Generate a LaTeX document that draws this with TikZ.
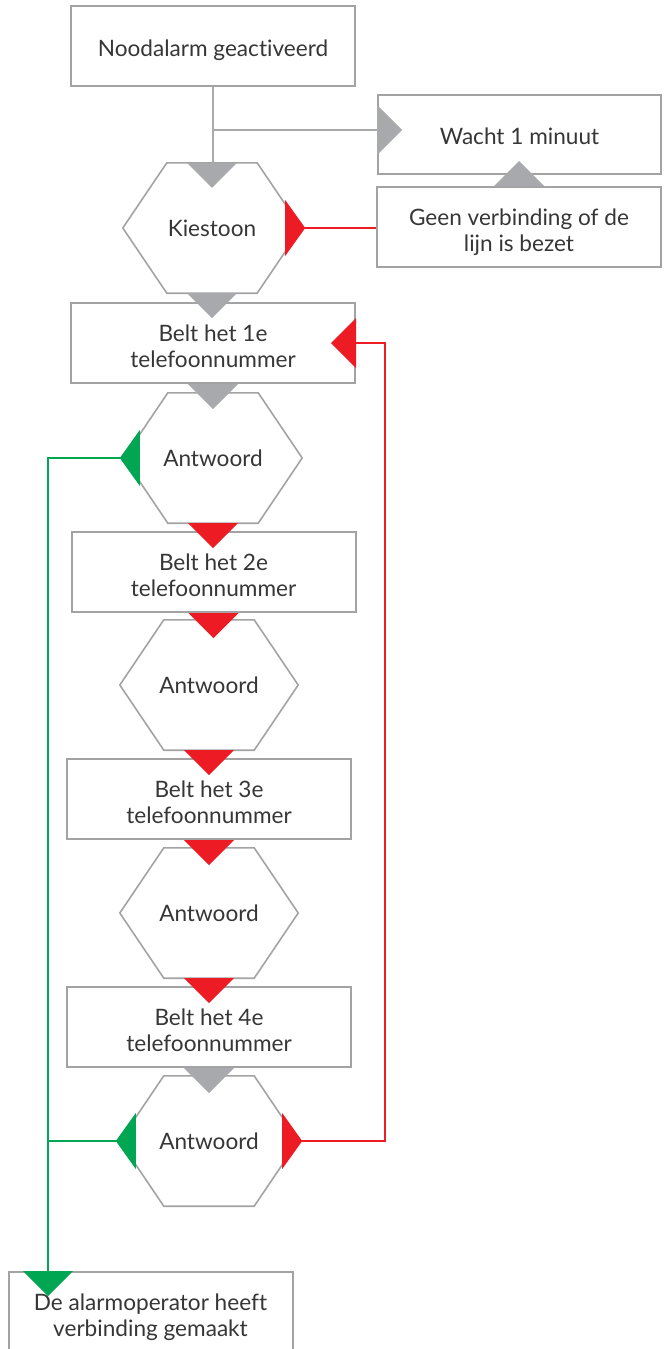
\documentclass[tikz,border=0pt]{standalone}
\usepackage{fontspec}
\setmainfont{Lato}[Ligatures=NoCommon]

\definecolor{grijs}{HTML}{A7A9AC}
\definecolor{rand}{HTML}{A3A3A3}
\definecolor{rood}{HTML}{ED1C24}
\definecolor{groen}{HTML}{00A651}
\definecolor{tekst}{HTML}{363636}

\tikzset{
    blok/.style={draw=rand, line width=2pt, minimum width=284pt, minimum height=80pt,
        inner sep=0pt, align=center, text=tekst, font=\fontsize{22.6}{25.5}\selectfont,
        text height=48pt, text depth=0pt},
    enkel/.style={text height=20pt},
    zeshoek/.style={minimum width=178pt, minimum height=130pt,
        inner sep=0pt, align=center, text=tekst, font=\fontsize{22.6}{25.5}\selectfont},
    grijslijn/.style={draw=grijs, line width=2pt},
    roodlijn/.style={draw=rood, line width=1.8pt},
    groenlijn/.style={draw=groen, line width=1.8pt}
}

% Arrow heads
\newcommand{\pijl}[3]{\fill[#1, shift={(#2)}, rotate=#3] (-25,0) -- (25,0) -- (0,-25) -- cycle;}
\newcommand{\hoek}[3]{\fill[#1, shift={(#2)}, rotate=#3] (-28,16) -- (28,16) -- (0,-4) -- cycle;}

\begin{document}
\begin{tikzpicture}[x=1pt, y=1pt]

    \useasboundingbox (0,0) rectangle (668,-1349);

    % Boxes
    \node[blok, enkel] (start) at (213,-46) {Noodalarm geactiveerd};
    \node[blok, enkel, minimum width=283pt, minimum height=79pt] (wacht) at (519.5,-134.5) {Wacht 1 minuut};
    \node[blok] (geen) at (519,-227) {Geen verbinding of de\\lijn is bezet};
    \node[blok] (bel1) at (213,-343) {Belt het 1e\\telefoonnummer};
    \node[blok] (bel2) at (213.5,-572) {Belt het 2e\\telefoonnummer};
    \node[blok] (bel3) at (209,-799) {Belt het 3e\\telefoonnummer};
    \node[blok] (bel4) at (209,-1027) {Belt het 4e\\telefoonnummer};
    \node[blok, minimum height=90pt, text height=38pt] (eind) at (150.5,-1317) {De alarmoperator heeft\\verbinding gemaakt};

    % Hexagons
    \node[zeshoek] (kies) at (212,-228) {Kiestoon};
    \node[zeshoek] (ant1) at (213,-458) {Antwoord};
    \node[zeshoek] (ant2) at (209,-685) {Antwoord};
    \node[zeshoek] (ant3) at (209,-913) {Antwoord};
    \node[zeshoek] (ant4) at (209,-1141) {Antwoord};

    \foreach \h in {kies,ant1,ant2,ant3,ant4}
        \draw[draw=rand, line width=1.6pt]
            (\h.west) -- ([xshift=44pt]\h.north west) -- ([xshift=-44pt]\h.north east)
            -- (\h.east) -- ([xshift=-44pt]\h.south east) -- ([xshift=44pt]\h.south west) -- cycle;

    % Connectors
    \coordinate (tak) at ([yshift=-43pt]start.south);
    \coordinate (wachtin) at (wacht.west |- tak);
    \coordinate (links) at (48,0);
    \coordinate (terug) at (385,0);
    \coordinate (eindin) at (links |- eind.north);

    \draw[grijslijn] (start.south) -- (start.south |- kies.north);
    \draw[grijslijn] (tak) -- (wachtin);
    \draw[roodlijn] (kies.east) -- (geen.west |- kies.east);
    \draw[roodlijn] (ant4.east) -| (terug |- bel1.east) -- (bel1.east);
    \draw[groenlijn] (ant1.west) -| (eindin);
    \draw[groenlijn] (ant4.west) -- (links |- ant4.west);

    % Arrow heads
    \pijl{grijs}{kies.north}{0}
    \pijl{grijs}{wachtin}{90}
    \pijl{grijs}{geen.north}{180}
    \hoek{rood}{kies.east}{90}
    \pijl{grijs}{kies.south}{0}
    \pijl{rood}{bel1.east}{-90}
    \pijl{grijs}{bel1.south}{0}
    \hoek{groen}{ant1.west}{-90}
    \foreach \n in {ant1,bel2,ant2,bel3,ant3}{
        \pijl{rood}{\n.south}{0}
    }
    \pijl{grijs}{bel4.south}{0}
    \hoek{groen}{ant4.west}{-90}
    \hoek{rood}{ant4.east}{90}
    \pijl{groen}{eindin}{0}

\end{tikzpicture}
\end{document}
